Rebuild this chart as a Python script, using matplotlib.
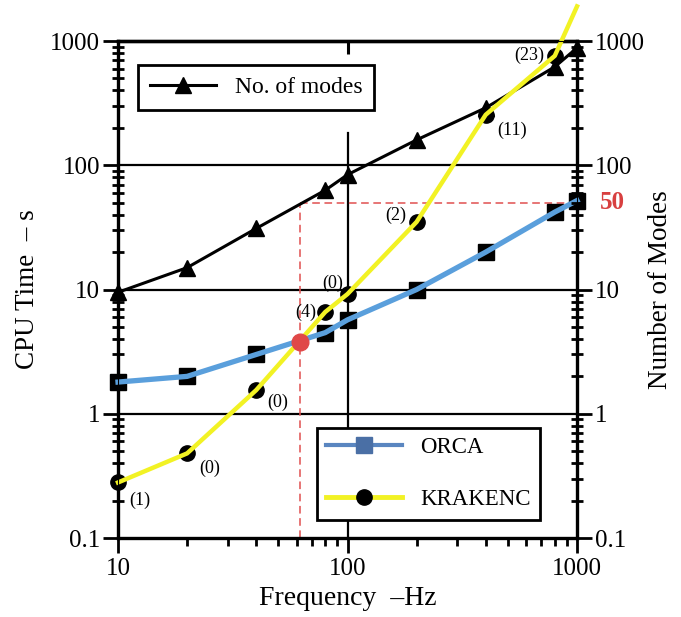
import matplotlib
matplotlib.use("Agg")
import matplotlib.pyplot as plt
from matplotlib.lines import Line2D

plt.rcParams["font.family"] = ["Liberation Serif", "DejaVu Serif"]

# Number of modes (black triangles)
mode_freq = [10, 20, 40, 80, 100, 200, 400, 800, 1000]
n_modes = [9.5, 15, 31, 63, 84, 160, 290, 620, 880]

# ORCA CPU time (squares, blue line)
orca_freq = [10, 20, 40, 80, 100, 200, 400, 800, 1000]
orca_time = [1.8, 2.0, 3.0, 4.5, 5.7, 10, 20, 42, 52]

# KRAKENC CPU time (circles, yellow line); last point is off the top of the chart
krak_freq = [10, 20, 40, 80, 100, 200, 400, 800, 1000]
krak_time = [0.28, 0.48, 1.55, 6.6, 9.2, 35, 255, 760, 1900]
krak_labels = ["(1)", "(0)", "(0)", "(4)", "(0)", "(2)", "(11)", "(23)"]

# crossover point
cross_freq = 62
cross_time = 3.8
cross_modes = 50

yticks = [0.1, 1, 10, 100, 1000]
ytick_labels = ["0.1", "1", "10", "100", "1000"]
xticks = [10, 100, 1000]
xtick_labels = ["10", "100", "1000"]

fig = plt.figure(figsize=(6.81, 6.17), dpi=100)
ax = fig.add_axes([0.1733, 0.128, 0.674, 0.8055])
ax.set_xscale("log")
ax.set_yscale("log")
ax.set_xlim(10, 1000)
ax.set_ylim(0.1, 1000)

# grid: horizontal decades, one vertical at 100 Hz
for y in [1, 10, 100]:
    ax.axhline(y, color="black", lw=1.6, zorder=1)
ax.axvline(100, ymax=0.815, color="black", lw=1.6, zorder=1)

# red dashed guide lines
ax.plot([cross_freq, cross_freq], [0.1, cross_modes], ls=(0, (5, 3)), color="#e05050", lw=1.1, zorder=2)
ax.plot([cross_freq, 1000], [cross_modes, cross_modes], ls=(0, (5, 3)), color="#e05050", lw=1.1, zorder=2)

# number of modes
ax.plot(mode_freq, n_modes, color="black", lw=2.2, marker="^", ms=11, zorder=4, clip_on=False)

# ORCA
ax.plot(orca_freq, orca_time, ls="none", marker="s", ms=11, color="black", zorder=3, clip_on=False)
ax.plot(orca_freq, orca_time, color="#5a9fdc", lw=3.8, zorder=4, clip_on=False)

# KRAKENC
ax.plot(krak_freq[:-1], krak_time[:-1], ls="none", marker="o", ms=11, color="black", zorder=3, clip_on=False)
ax.plot(krak_freq, krak_time, color="#f2f224", lw=3.2, zorder=5, clip_on=False)

# crossover dot
ax.plot([cross_freq], [cross_time], marker="o", ms=12, color="#e04848", ls="none", zorder=6)

# mode count labels next to KRAKENC points
offsets = [(22, -18), (23, -15), (21, -12), (-20, 0), (-15, 11), (-21, 7), (26, -16), (-26, 0)]
for f, t, lab, off in zip(krak_freq, krak_time, krak_labels, offsets):
    ax.annotate(lab, xy=(f, t), xytext=off, textcoords="offset pixels",
                ha="center", va="center", fontsize=13, zorder=2)

# ticks
ax.set_xticks(xticks)
ax.set_xticklabels(xtick_labels)
ax.set_yticks(yticks)
ax.set_yticklabels(ytick_labels)
ax.tick_params(axis="both", which="major", labelsize=18, width=2, length=11, direction="out")
ax.tick_params(axis="y", which="minor", width=2, length=9, direction="inout")
ax.tick_params(axis="x", which="minor", width=2, length=6, direction="out")
ax.tick_params(axis="y", which="major", pad=2)

# single inward tick on the top edge at 100 Hz
top = ax.secondary_xaxis("top")
top.set_xticks([100])
top.set_xticklabels([])
top.tick_params(which="major", direction="in", length=9, width=2.2)
top.tick_params(which="minor", length=0)
top.spines["top"].set_linewidth(2.4)

for s in ax.spines.values():
    s.set_linewidth(2.4)

ax2 = ax.twinx()
ax2.set_yscale("log")
ax2.set_ylim(0.1, 1000)
ax2.set_yticks(yticks)
ax2.set_yticklabels(ytick_labels)
ax2.tick_params(axis="y", which="major", labelsize=18, width=2, length=11, direction="out", pad=2)
ax2.tick_params(axis="y", which="minor", width=2, length=9, direction="inout")
ax2.text(1.05, cross_modes, str(cross_modes), transform=ax2.get_yaxis_transform(),
         color="#d84040", fontsize=18, fontweight="bold", ha="left", va="center")

ax.set_xlabel("Frequency  \u2013Hz", fontsize=20, labelpad=4)
ax.set_ylabel("CPU Time  \u2013 s", fontsize=19.5, labelpad=7)
ax2.set_ylabel("Number of Modes", fontsize=19.5, labelpad=2)

# legends
h_modes = Line2D([], [], color="black", lw=2.2, marker="^", ms=11)
leg1 = ax.legend([h_modes], ["No. of modes"], loc="upper left", bbox_to_anchor=(0.044, 0.952),
                 frameon=True, fancybox=False, edgecolor="black", fontsize=17,
                 handlelength=2.8, handletextpad=0.8, borderpad=0.5, borderaxespad=0)
leg1.get_frame().set_linewidth(2)
leg1.get_frame().set_alpha(1)
leg1.set_zorder(10)
ax.add_artist(leg1)

h_orca = Line2D([], [], color="#5a86c0", lw=3, marker="s", ms=11, mfc="#4a6fa5", mec="#4a6fa5")
h_krak = Line2D([], [], color="#f2f224", lw=3.5, marker="o", ms=11, mfc="black", mec="black")
leg2 = ax.legend([h_orca, h_krak], ["ORCA", "KRAKENC"], loc="upper left", bbox_to_anchor=(0.434, 0.221),
                 frameon=True, fancybox=False, edgecolor="black", fontsize=16.5,
                 handlelength=3.3, handletextpad=0.8, borderpad=0.4, labelspacing=1.35, borderaxespad=0)
leg2.get_frame().set_linewidth(2)
leg2.get_frame().set_alpha(1)
leg2.set_zorder(10)

fig.savefig("out.png", dpi=100)
